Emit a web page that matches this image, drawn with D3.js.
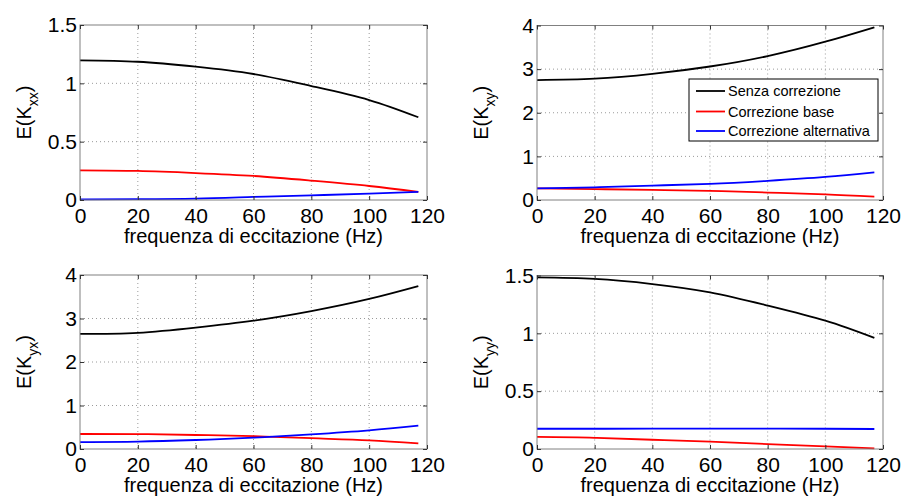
<!DOCTYPE html>
<html>
<head>
<meta charset="utf-8">
<script src="https://cdn.jsdelivr.net/npm/d3@7/dist/d3.min.js"></script>
<style>
  html, body { margin: 0; padding: 0; background: #fff; }
  svg { display: block; }
  text { font-family: "Liberation Sans", Arial, Helvetica, sans-serif; fill: #000; }
</style>
</head>
<body>
<svg id="chart" width="903" height="497"></svg>
<script>
// ---------- data ----------
const freq = [0, 20, 40, 60, 80, 100, 117];
const xTicks = [0, 20, 40, 60, 80, 100, 120];
const seriesNames = ["Senza correzione", "Correzione base", "Correzione alternativa"];
const seriesColors = ["#000000", "#ff0000", "#0000ff"];

// E(Kxx)
const kxxSenza = [1.197, 1.185, 1.143, 1.08, 0.977, 0.857, 0.709];
const kxxBase  = [0.254, 0.249, 0.231, 0.206, 0.166, 0.12, 0.069];
const kxxAlt   = [0.006, 0.007, 0.011, 0.026, 0.040, 0.054, 0.069];
// E(Kxy)
const kxySenza = [2.75, 2.78, 2.89, 3.06, 3.30, 3.63, 3.96];
const kxyBase  = [0.268, 0.25, 0.23, 0.21, 0.17, 0.13, 0.077];
const kxyAlt   = [0.268, 0.29, 0.33, 0.37, 0.44, 0.53, 0.635];
// E(Kyx)
const kyxSenza = [2.645, 2.67, 2.79, 2.95, 3.17, 3.45, 3.745];
const kyxBase  = [0.345, 0.343, 0.322, 0.295, 0.248, 0.2, 0.13];
const kyxAlt   = [0.16, 0.17, 0.207, 0.26, 0.337, 0.43, 0.535];
// E(Kyy)
const kyySenza = [1.483, 1.47, 1.426, 1.354, 1.24, 1.109, 0.96];
const kyyBase  = [0.104, 0.097, 0.08, 0.063, 0.043, 0.022, 0.005];
const kyyAlt   = [0.175, 0.175, 0.176, 0.176, 0.176, 0.175, 0.173];

const yTicksSmall = [0, 0.5, 1, 1.5];
const yTicksLarge = [0, 1, 2, 3, 4];

const panels = [
  { sub: "xx", series: [kxxSenza, kxxBase, kxxAlt], yMax: 1.5, yTicks: yTicksSmall,
    box: { x0: 80, x1: 427, y0: 25, y1: 200 }, legend: false },
  { sub: "xy", series: [kxySenza, kxyBase, kxyAlt], yMax: 4, yTicks: yTicksLarge,
    box: { x0: 537, x1: 883, y0: 25.5, y1: 200 }, legend: true },
  { sub: "yx", series: [kyxSenza, kyxBase, kyxAlt], yMax: 4, yTicks: yTicksLarge,
    box: { x0: 80, x1: 427, y0: 275, y1: 449 }, legend: false },
  { sub: "yy", series: [kyySenza, kyyBase, kyyAlt], yMax: 1.5, yTicks: yTicksSmall,
    box: { x0: 537, x1: 883, y0: 275.5, y1: 449 }, legend: false }
];

// ---------- drawing ----------
const svg = d3.select("#chart");
const fmt = d => String(d);
const FONT = "Liberation Sans, Arial, sans-serif";

panels.forEach(p => {
  const b = p.box;
  const x = d3.scaleLinear().domain([0, 120]).range([b.x0, b.x1]);
  const y = d3.scaleLinear().domain([0, p.yMax]).range([b.y1, b.y0]);
  const g = svg.append("g");

  // grid
  g.append("g").selectAll("line").data(xTicks.slice(1, -1)).join("line")
    .attr("x1", d => x(d)).attr("x2", d => x(d))
    .attr("y1", b.y0).attr("y2", b.y1)
    .attr("stroke", "#9a9a9a").attr("stroke-width", 1).attr("stroke-dasharray", "1,3");
  g.append("g").selectAll("line").data(p.yTicks.slice(1, -1)).join("line")
    .attr("x1", b.x0).attr("x2", b.x1)
    .attr("y1", d => y(d)).attr("y2", d => y(d))
    .attr("stroke", "#9a9a9a").attr("stroke-width", 1).attr("stroke-dasharray", "1,3");

  // series
  const line = d3.line().x((d, i) => x(freq[i])).y(d => y(d)).curve(d3.curveNatural);
  p.series.forEach((vals, si) => {
    g.append("path").datum(vals)
      .attr("d", line)
      .attr("fill", "none")
      .attr("stroke", seriesColors[si])
      .attr("stroke-width", 1.8);
  });

  // box
  g.append("rect")
    .attr("x", b.x0).attr("y", b.y0)
    .attr("width", b.x1 - b.x0).attr("height", b.y1 - b.y0)
    .attr("fill", "none").attr("stroke", "#808080").attr("stroke-width", 1);

  // axes (inward ticks)
  const tl = 4;
  const xb = d3.axisBottom(x).tickValues(xTicks).tickSize(-tl).tickFormat(fmt);
  const gx = g.append("g").attr("transform", `translate(0,${b.y1})`).call(xb);
  gx.select(".domain").remove();
  gx.selectAll(".tick line").attr("stroke", "#333");
  gx.selectAll(".tick text").attr("font-size", 21).attr("dy", "0.71em")
    .attr("y", 8).attr("font-family", FONT);

  const xt = d3.axisTop(x).tickValues(xTicks).tickSize(-tl).tickFormat("");
  const gxt = g.append("g").attr("transform", `translate(0,${b.y0})`).call(xt);
  gxt.select(".domain").remove();
  gxt.selectAll(".tick line").attr("stroke", "#333");

  const yl = d3.axisLeft(y).tickValues(p.yTicks).tickSize(-tl).tickFormat(fmt);
  const gy = g.append("g").attr("transform", `translate(${b.x0},0)`).call(yl);
  gy.select(".domain").remove();
  gy.selectAll(".tick line").attr("stroke", "#333");
  gy.selectAll(".tick text").attr("font-size", 21).attr("x", -3)
    .attr("font-family", FONT);

  const yr = d3.axisRight(y).tickValues(p.yTicks).tickSize(-tl).tickFormat("");
  const gyr = g.append("g").attr("transform", `translate(${b.x1},0)`).call(yr);
  gyr.select(".domain").remove();
  gyr.selectAll(".tick line").attr("stroke", "#333");

  // x title
  g.append("text")
    .attr("x", (b.x0 + b.x1) / 2)
    .attr("y", b.y1 + 43)
    .attr("text-anchor", "middle")
    .attr("font-size", 20)
    .text("frequenza di eccitazione (Hz)");

  // y title, rotated, with subscript
  const cy = (b.y0 + b.y1) / 2;
  const yt = g.append("text")
    .attr("transform", `translate(${b.x0 - 49},${cy}) rotate(-90)`)
    .attr("text-anchor", "middle")
    .attr("font-size", 20);
  yt.append("tspan").text("E(K");
  yt.append("tspan").attr("font-size", 14).attr("dy", 7).text(p.sub);
  yt.append("tspan").attr("dy", -7).text(")");

  // legend
  if (p.legend) {
    const lx0 = 689, ly0 = 79, lw = 189, lh = 62;
    const lg = g.append("g");
    lg.append("rect").attr("x", lx0).attr("y", ly0).attr("width", lw).attr("height", lh)
      .attr("fill", "#fff").attr("stroke", "#000").attr("stroke-width", 1);
    const rowY = [91, 111.5, 131];
    seriesNames.forEach((name, i) => {
      lg.append("line").attr("x1", lx0 + 7).attr("x2", lx0 + 36)
        .attr("y1", rowY[i]).attr("y2", rowY[i])
        .attr("stroke", seriesColors[i]).attr("stroke-width", 1.8);
      lg.append("text").attr("x", lx0 + 39).attr("y", rowY[i])
        .attr("dy", "0.35em").attr("font-size", 14.5).text(name);
    });
  }
});
</script>
</body>
</html>
